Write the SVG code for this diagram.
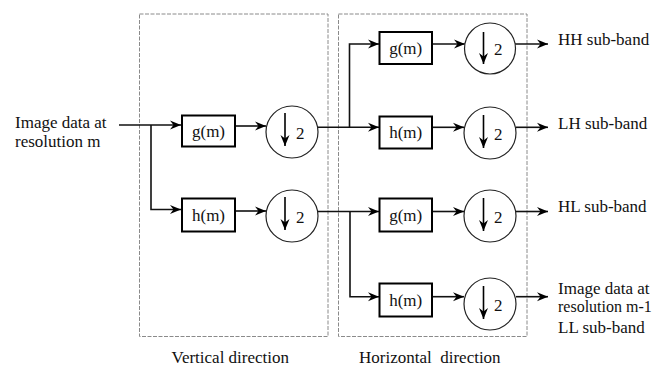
<svg xmlns="http://www.w3.org/2000/svg" width="656" height="367" viewBox="0 0 656 367" font-family="'Liberation Serif', 'DejaVu Serif', serif">
<style>
text{font-family:'Liberation Serif','DejaVu Serif',serif;font-size:17px;fill:#111}
.frame{fill:none;stroke:#8a8a8a;stroke-width:1;stroke-dasharray:4 1.5}
.box{fill:#fff;stroke:#000;stroke-width:2}
.ds{fill:#fff;stroke:#222;stroke-width:1.2}
.wire{fill:none;stroke:#111;stroke-width:1.6}
.dn{fill:none;stroke:#000;stroke-width:1.6}
.ctr{text-anchor:middle}
</style>
<defs>
<marker id="ah" markerUnits="userSpaceOnUse" markerWidth="12" markerHeight="10" refX="11" refY="5" orient="auto">
<path d="M0,0.5 L11,5 L0,9.5 L3.5,5 z" fill="#000"/>
</marker>
<marker id="dh" markerUnits="userSpaceOnUse" markerWidth="10" markerHeight="12" refX="5" refY="11" orient="0">
<path d="M0.5,0 L5,11 L9.5,0 L5,3.5 z" fill="#000"/>
</marker>
</defs>

<g id="frame-vertical"><rect class="frame" x="139.5" y="14" width="188.5" height="322.5"/></g>
<g id="frame-horizontal"><rect class="frame" x="338.5" y="14" width="188.5" height="322.5"/></g>

<g id="connectors">
<path class="wire" d="M119,125 H181" marker-end="url(#ah)"/>
<path class="wire" d="M151,125 V209.5 H181" marker-end="url(#ah)"/>
<path class="wire" d="M235,126 H266" marker-end="url(#ah)"/>
<path class="wire" d="M235,211 H266" marker-end="url(#ah)"/>
<path class="wire" d="M318,127.3 H379" marker-end="url(#ah)"/>
<path class="wire" d="M349.5,127.3 V44 H379" marker-end="url(#ah)"/>
<path class="wire" d="M318,211.5 H379" marker-end="url(#ah)"/>
<path class="wire" d="M350,211.5 V296.7 H379" marker-end="url(#ah)"/>
<path class="wire" d="M432,44 H465" marker-end="url(#ah)"/>
<path class="wire" d="M432,127.3 H464" marker-end="url(#ah)"/>
<path class="wire" d="M432,211.5 H464" marker-end="url(#ah)"/>
<path class="wire" d="M432,296.7 H464" marker-end="url(#ah)"/>
<path class="wire" d="M515,44 H548" marker-end="url(#ah)"/>
<path class="wire" d="M516,127.3 H548" marker-end="url(#ah)"/>
<path class="wire" d="M516,211.5 H548" marker-end="url(#ah)"/>
<path class="wire" d="M516,296.7 H548" marker-end="url(#ah)"/>
</g>

<g id="input-label">
<text x="15" y="128">Image data at</text>
<text x="15" y="147">resolution m</text>
</g>

<g id="v-g"><rect class="box" x="182" y="115.5" width="53" height="31"/><text class="ctr" x="208.5" y="137">g(m)</text></g>
<g id="v-down-g"><circle class="ds" cx="292" cy="132" r="26"/><path class="dn" d="M285,113 V146" marker-end="url(#dh)"/><text x="296" y="139">2</text></g>
<g id="v-h"><rect class="box" x="182" y="198.5" width="53" height="33"/><text class="ctr" x="208.5" y="221">h(m)</text></g>
<g id="v-down-h"><circle class="ds" cx="292" cy="216" r="26"/><path class="dn" d="M285,197 V230" marker-end="url(#dh)"/><text x="296" y="223">2</text></g>

<g id="h-g1"><rect class="box" x="379.5" y="32" width="52.5" height="32"/><text class="ctr" x="405.7" y="54">g(m)</text></g>
<g id="h-down-1"><circle class="ds" cx="490" cy="48.5" r="25.5"/><path class="dn" d="M483.5,32 V64" marker-end="url(#dh)"/><text x="494" y="55">2</text></g>
<g id="h-h1"><rect class="box" x="379.5" y="116.5" width="52.5" height="32"/><text class="ctr" x="405.7" y="138">h(m)</text></g>
<g id="h-down-2"><circle class="ds" cx="490" cy="133" r="26"/><path class="dn" d="M483.5,115 V148" marker-end="url(#dh)"/><text x="494" y="140">2</text></g>
<g id="h-g2"><rect class="box" x="379.5" y="198.5" width="52.5" height="33"/><text class="ctr" x="405.7" y="221">g(m)</text></g>
<g id="h-down-3"><circle class="ds" cx="490" cy="216" r="26"/><path class="dn" d="M483.5,198 V231" marker-end="url(#dh)"/><text x="494" y="223">2</text></g>
<g id="h-h2"><rect class="box" x="379.5" y="283.5" width="52.5" height="33"/><text class="ctr" x="405.7" y="306">h(m)</text></g>
<g id="h-down-4"><circle class="ds" cx="490" cy="304" r="26"/><path class="dn" d="M483.5,286 V319" marker-end="url(#dh)"/><text x="494" y="311">2</text></g>

<g id="out-hh"><text x="558" y="45">HH sub-band</text></g>
<g id="out-lh"><text x="558" y="128.5">LH sub-band</text></g>
<g id="out-hl"><text x="558" y="212">HL sub-band</text></g>
<g id="out-ll">
<text x="558" y="294">Image data at</text>
<text x="558" y="312" style="font-size:16px">resolution m-1</text>
<text x="558" y="333">LL sub-band</text>
</g>

<g id="label-vertical"><text x="171.5" y="363">Vertical direction</text></g>
<g id="label-horizontal"><text x="359" y="363" xml:space="preserve">Horizontal  direction</text></g>
</svg>
